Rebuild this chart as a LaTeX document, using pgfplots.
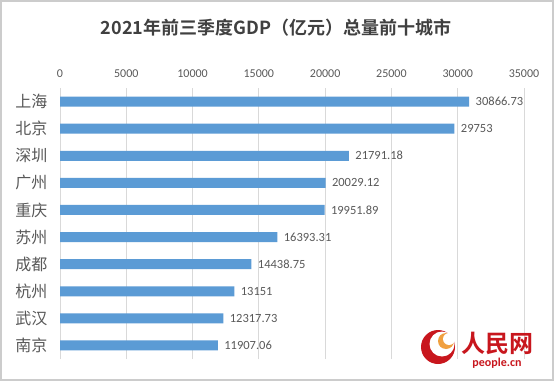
\documentclass[border=0pt]{standalone}
\usepackage{pgfplots}
\pgfplotsset{compat=1.18}
\usepackage{pgfplotstable}
\usepackage{fontspec}
\setmainfont{Carlito}
\newfontfamily\cjk{Noto Sans CJK SC}[BoldFont={Noto Sans CJK SC Bold}]
\definecolor{barblue}{HTML}{5B9BD5}
\definecolor{gridgray}{HTML}{D9D9D9}
\definecolor{txtgray}{HTML}{595959}
\definecolor{logored}{HTML}{C8161D}
\definecolor{logoorange}{HTML}{F0A040}
\pgfplotstableread{
x y label
30866.73 9 30866.73
29753 8 29753
21791.18 7 21791.18
20029.12 6 20029.12
19951.89 5 19951.89
16393.31 4 16393.31
14438.75 3 14438.75
13151 2 13151
12317.73 1 12317.73
11907.06 0 11907.06
}\gdpdata
\begin{document}
\begin{tikzpicture}
\useasboundingbox (0pt,0pt) rectangle (554pt,381pt);
\fill[white] (0pt,0pt) rectangle (554pt,381pt);
\draw[gray!40, line width=1.2pt] (1pt,1pt) rectangle (553pt,380pt);
\node[font=\cjk\bfseries\fontsize{18}{21}\selectfont, text=black!75] at (276pt,353pt) {2021年前三季度GDP（亿元）总量前十城市};
\begin{axis}[
  at={(60pt,22pt)}, anchor=south west,
  width=464pt, height=271pt, scale only axis,
  xmin=0, xmax=35000, ymin=-0.5, ymax=9.5,
  xtick={0,5000,...,35000},
  xticklabel pos=upper,
  xticklabel style={font=\fontsize{12}{14}\selectfont, text=txtgray, yshift=7pt},
  /pgf/number format/assume math mode=true,
  /pgf/number format/.cd, fixed, 1000 sep={}, /pgfplots/.cd,
  scaled x ticks=false,
  ytick={0,...,9},
  yticklabels={南京,武汉,杭州,成都,苏州,重庆,广州,深圳,北京,上海},
  yticklabel style={font=\cjk\fontsize{16}{18}\selectfont, text=txtgray, xshift=-9pt},
  major tick length=0pt,
  axis line style={draw=none},
  xmajorgrids, ymajorgrids=false,
  grid style={gridgray, line width=0.8pt},
  xbar, bar width=10pt,
  point meta=explicit symbolic,
  nodes near coords,
  nodes near coords style={font=\fontsize{12.5}{14}\selectfont, text=txtgray, anchor=west, xshift=3pt},
  clip=false,
]
\addplot[fill=barblue, draw=none] table[x=x, y=y, meta=label] {\gdpdata};
\end{axis}
% watermark logo
\fill[logored] (438pt,34pt) circle (17pt);
\fill[white] (442pt,37pt) circle (12.5pt);
\fill[logoorange] (446pt,40pt) circle (8pt);
\fill[white] (449pt,42pt) circle (6pt);
\node[font=\cjk\bfseries\fontsize{24}{26}\selectfont, text=logored] at (497pt,38pt) {人民网};
\node[font=\fontsize{12}{14}\selectfont\bfseries, text=logored] at (497pt,18pt) {people.cn};
\end{tikzpicture}
\end{document}
